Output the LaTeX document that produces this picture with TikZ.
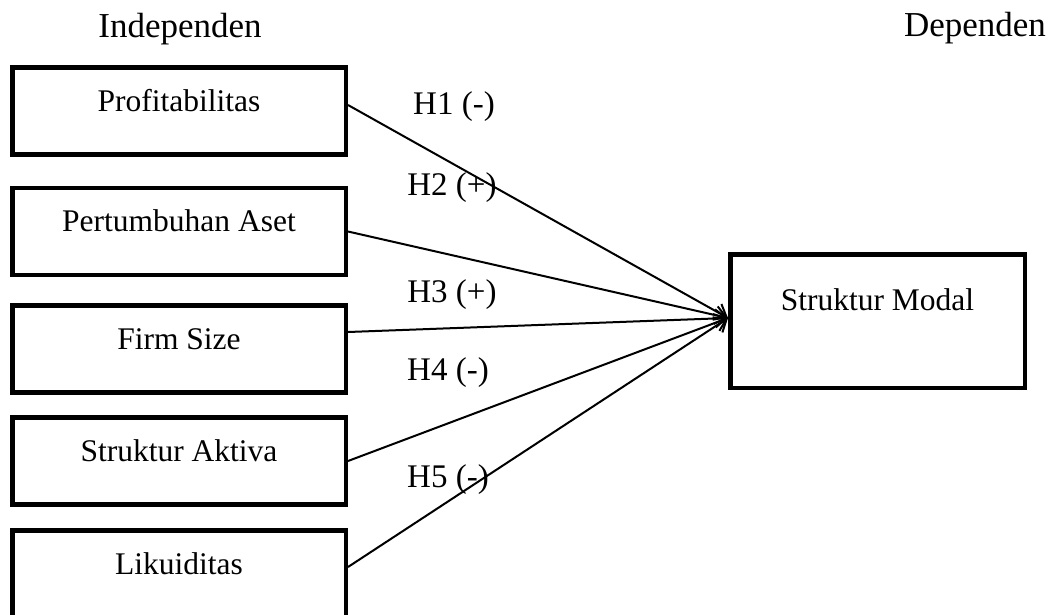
\documentclass[tikz,border=0pt]{standalone}
\usepackage{fontspec}
\setmainfont{Liberation Serif}
\usetikzlibrary{arrows.meta,positioning}

\begin{document}
\begin{tikzpicture}[
    x=1pt, y=-1pt,
    >={Straight Barb[length=11pt,width=18pt]},
    var/.style={
      rectangle, draw, line width=4.5pt, minimum width=333.5pt,
      minimum height=87pt, inner sep=0pt,
      text height=20pt, text depth=20pt,
      font=\fontsize{31.5}{36}\selectfont
    },
    hyp/.style={inner sep=0pt, font=\fontsize{33}{38}\selectfont},
    head/.style={inner sep=0pt, font=\fontsize{35}{40}\selectfont},
    arr/.style={->, line width=2pt}
  ]
  \clip (0,0) rectangle (1052,614);

  \node[head] (indep) at (180,29) {Independen};
  \node[head] (dep)   at (975,28) {Dependen};

  % independent variables
  \node[var] (b1) at (179,111)   {Profitabilitas};
  \node[var] (b2) at (179,231.5) {Pertumbuhan Aset};
  \node[var] (b3) at (179,349)   {Firm Size};
  \node[var] (b4) at (179,461)   {Struktur Aktiva};
  \node[var] (b5) at (179,574)   {Likuiditas};

  % dependent variable
  \node[var, minimum width=294.5pt, minimum height=133.5pt,
        text depth=41pt] (sm) at (877.5,321) {Struktur Modal};
  \coordinate (tip) at ([yshift=3pt]sm.west);

  \draw[arr] ([yshift=6pt]b1.east)  -- (tip);
  \draw[arr] (b2.east)              -- (tip);
  \draw[arr] ([yshift=17pt]b3.east) -- (tip);
  \draw[arr] (b4.east)              -- (tip);
  \draw[arr] ([yshift=7pt]b5.east)  -- (tip);

  \node[hyp] (h1) at (454,107) {H1 (-)};
  \node[hyp] (h2) at (452,188) {H2 (+)};
  \node[hyp] (h3) at (452,295) {H3 (+)};
  \node[hyp] (h4) at (448,373) {H4 (-)};
  \node[hyp] (h5) at (448,480) {H5 (-)};
\end{tikzpicture}
\end{document}
